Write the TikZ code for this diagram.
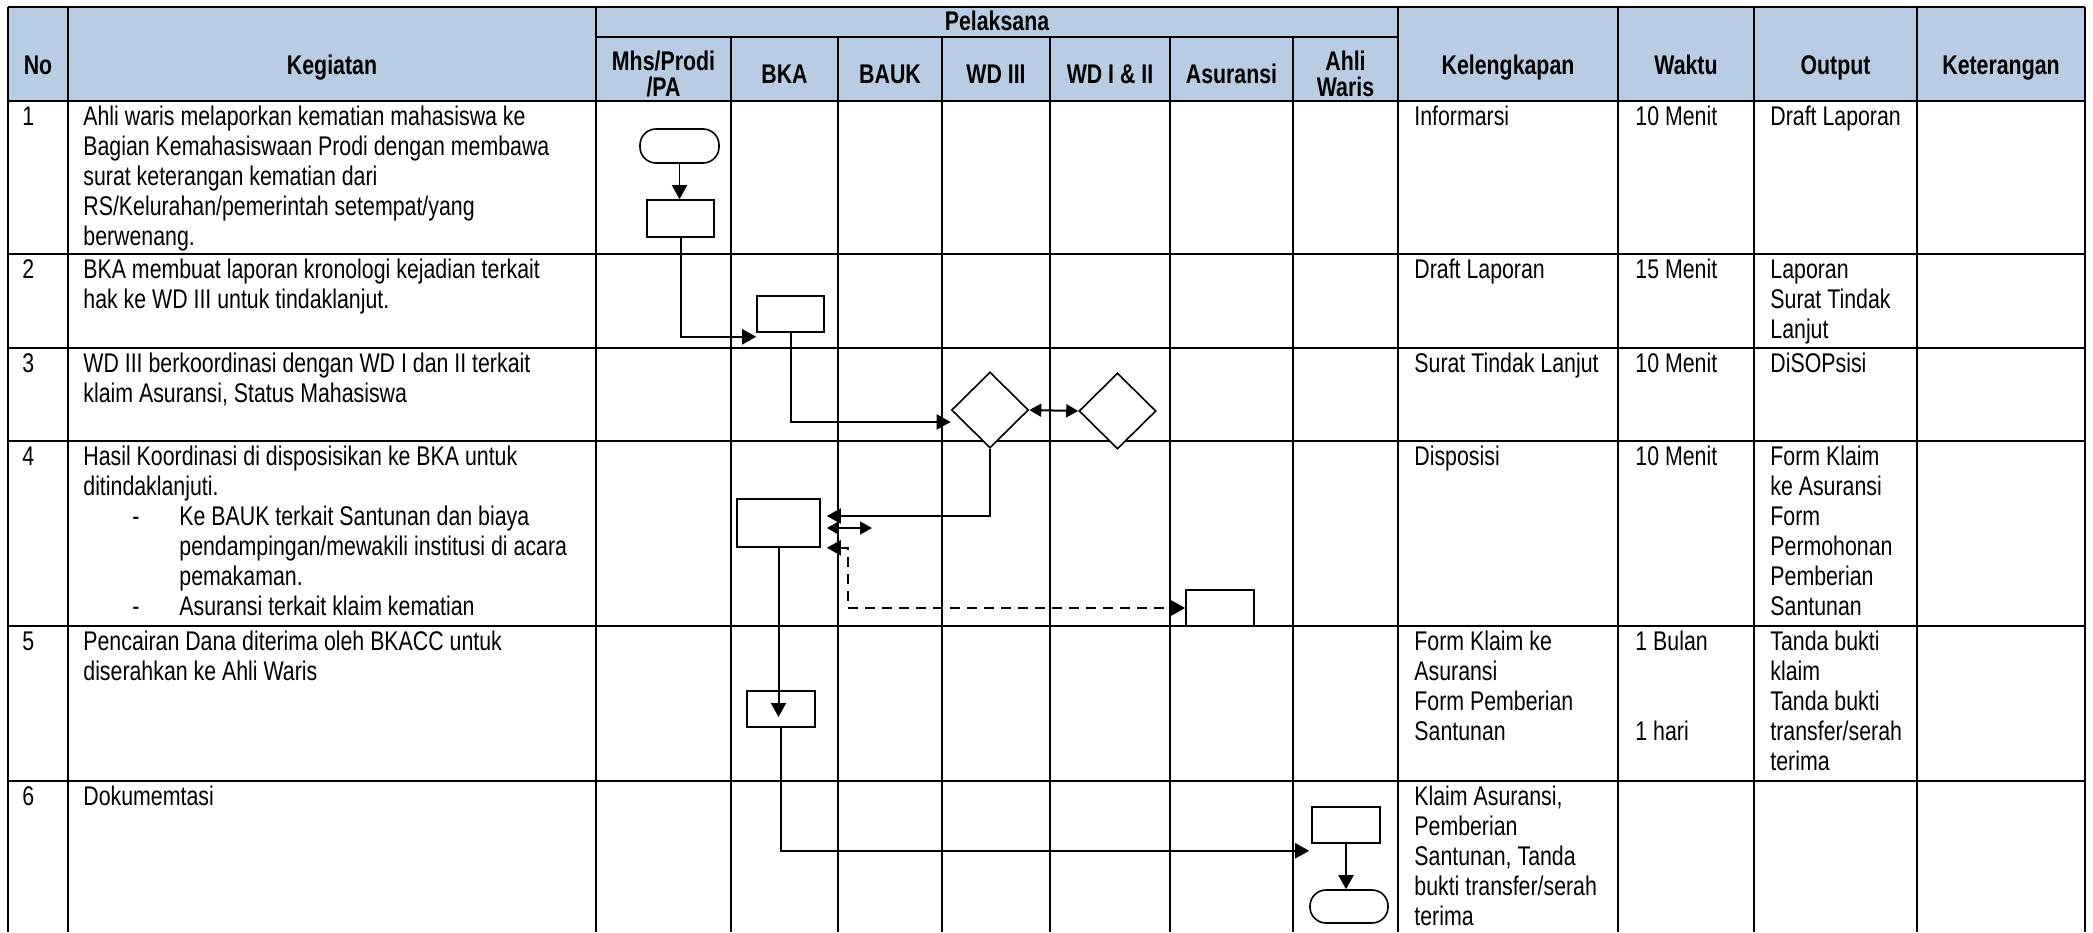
\documentclass[tikz,border=0pt]{standalone}
\usepackage{fontspec}
\setmainfont{Liberation Sans}[FakeStretch=0.79]
\usetikzlibrary{arrows.meta,calc,shapes.geometric}

\newcommand\tblbody{\fontsize{13.5}{15}\selectfont}
\newcommand\tblhead{\fontsize{13.5}{13}\selectfont\bfseries}

\definecolor{headfill}{HTML}{B8CCE4}

\begin{document}
\begin{tikzpicture}[x=0.5pt,y=-0.5pt,
  gridline/.style={line width=1pt},
  rowline/.style={line width=1.2pt},
  hd/.style={anchor=base,inner sep=0pt,font=\tblhead},
  hd2/.style={anchor=center,inner sep=0pt,align=center,font=\tblhead},
  txt/.style={anchor=north west,inner sep=0pt,align=left,font=\tblbody},
  procbox/.style={draw,line width=0.8pt,inner sep=0pt,fill=white},
  termbox/.style={draw,line width=0.8pt,inner sep=0pt,rounded corners=8pt,fill=white},
  decbox/.style={draw,diamond,line width=0.8pt,inner sep=0pt,minimum width=38.5pt,minimum height=38pt,fill=white},
  flow/.style={line width=1pt,-{Triangle[length=7pt,width=7.5pt]}},
  flowthin/.style={line width=0.8pt,-{Triangle[length=7pt,width=7.5pt]}},
  twoway/.style={line width=1pt,{Triangle[length=6pt,width=6.5pt]}-{Triangle[length=6pt,width=6.5pt]}},
  dashflow/.style={line width=1pt,dash pattern=on 5pt off 3.5pt,{Triangle[length=7pt,width=7.5pt]}-{Triangle[length=7pt,width=7.5pt]}}
]
\useasboundingbox (0,0) rectangle (2093,932);
\fill[white] (0,0) rectangle (2093,932);

% header band
\fill[headfill] (8,7) rectangle (2085,101);

% table rules
\foreach \x in {8,68,596,1398,1618,1754,1917,2085}
  \draw[gridline] (\x,7) -- (\x,932);
\foreach \x in {731,838,942,1050,1170,1293}
  \draw[gridline] (\x,37) -- (\x,932);
\draw[gridline] (596,37) -- (1398,37);
\foreach \y in {101,254,348,441,626,781}
  \draw[rowline] (8,\y) -- (2085,\y);
\draw[line width=1.3pt] (8,7) -- (2085,7);

% header texts
\node[hd] (hNo) at (38,74) {No};
\node[hd] (hKeg) at (332,74) {Kegiatan};
\node[hd] (hPel) at (997,30) {Pelaksana};
\node[hd2] (hMhs) at (663.5,73.5) {Mhs/Prodi\\/PA};
\node[hd] (hBka) at (784.5,83) {BKA};
\node[hd] (hBauk) at (890,83) {BAUK};
\node[hd] (hWd3) at (996,83) {WD III};
\node[hd] (hWd12) at (1110,83) {WD I \& II};
\node[hd] (hAsr) at (1231.5,83) {Asuransi};
\node[hd2] (hAhli) at (1345.5,73.5) {Ahli\\Waris};
\node[hd] (hKel) at (1508,74) {Kelengkapan};
\node[hd] (hWak) at (1686,74) {Waktu};
\node[hd] (hOut) at (1835.5,74) {Output};
\node[hd] (hKet) at (2001,74) {Keterangan};

% row numbers
\node[txt] (n1) at (22,104) {\strut 1};
\node[txt] (n2) at (22,257) {\strut 2};
\node[txt] (n3) at (22,351) {\strut 3};
\node[txt] (n4) at (22,444) {\strut 4};
\node[txt] (n5) at (22,629) {\strut 5};
\node[txt] (n6) at (22,784) {\strut 6};

% activities
\node[txt] (k1) at (83,104) {\strut Ahli waris melaporkan kematian mahasiswa ke\\Bagian Kemahasiswaan Prodi dengan membawa\\surat keterangan kematian dari\\RS/Kelurahan/pemerintah setempat/yang\\berwenang.};
\node[txt] (k2) at (83,257) {\strut BKA membuat laporan kronologi kejadian terkait\\hak ke WD III untuk tindaklanjut.};
\node[txt] (k3) at (83,351) {\strut WD III berkoordinasi dengan WD I dan II terkait\\klaim Asuransi, Status Mahasiswa};
\node[txt] (k4) at (83,444) {\strut Hasil Koordinasi di disposisikan ke BKA untuk\\ditindaklanjuti.\\
  \makebox[48pt][l]{\hspace*{24.5pt}-}Ke BAUK terkait Santunan dan biaya\\
  \hspace*{48pt}pendampingan/mewakili institusi di acara\\
  \hspace*{48pt}pemakaman.\\
  \makebox[48pt][l]{\hspace*{24.5pt}-}Asuransi terkait klaim kematian};
\node[txt] (k5) at (83,629) {\strut Pencairan Dana diterima oleh BKACC untuk\\diserahkan ke Ahli Waris};
\node[txt] (k6) at (83,784) {\strut Dokumemtasi};

% requirements
\node[txt] (l1) at (1414,104) {\strut Informarsi};
\node[txt] (l2) at (1414,257) {\strut Draft Laporan};
\node[txt] (l3) at (1414,351) {\strut Surat Tindak Lanjut};
\node[txt] (l4) at (1414,444) {\strut Disposisi};
\node[txt] (l5) at (1414,629) {\strut Form Klaim ke\\Asuransi\\Form Pemberian\\Santunan};
\node[txt] (l6) at (1414,784) {\strut Klaim Asuransi,\\Pemberian\\Santunan, Tanda\\bukti transfer/serah\\terima};

% durations
\node[txt] (w1) at (1635,104) {\strut 10 Menit};
\node[txt] (w2) at (1635,257) {\strut 15 Menit};
\node[txt] (w3) at (1635,351) {\strut 10 Menit};
\node[txt] (w4) at (1635,444) {\strut 10 Menit};
\node[txt] (w5) at (1635,629) {\strut 1 Bulan\\[30pt]1 hari};

% outputs
\node[txt] (o1) at (1770,104) {\strut Draft Laporan};
\node[txt] (o2) at (1770,257) {\strut Laporan\\Surat Tindak\\Lanjut};
\node[txt] (o3) at (1770,351) {\strut DiSOPsisi};
\node[txt] (o4) at (1770,444) {\strut Form Klaim\\ke Asuransi\\Form\\Permohonan\\Pemberian\\Santunan};
\node[txt] (o5) at (1770,629) {\strut Tanda bukti\\klaim\\Tanda bukti\\transfer/serah\\terima};

% flow symbols
\node[termbox,minimum width=39.5pt,minimum height=17pt] (t1) at (679.5,146) {};
\node[procbox,minimum width=33.5pt,minimum height=18.5pt] (b1) at (680.5,218.5) {};
\node[procbox,minimum width=33.5pt,minimum height=18pt] (b2) at (790.5,314) {};
\node[decbox] (d1) at (990,410) {};
\node[decbox] (d2) at (1117.5,411) {};
\node[procbox,minimum width=41.5pt,minimum height=24pt] (b3) at (778.5,523) {};
\node[procbox,minimum width=34pt,minimum height=18pt] (a1) at (1220,608) {};
\node[procbox,minimum width=34pt,minimum height=18pt] (b4) at (781,709) {};
\node[procbox,minimum width=34pt,minimum height=18pt] (b5) at (1346,825) {};
\node[termbox,minimum width=39pt,minimum height=16.5pt] (t2) at (1349,906.5) {};

% connectors
\draw[flowthin] (t1.south) -- (t1.south |- b1.north);
\draw[flow] (b1.south) |- ($(b2.south west)+(0,4)$);
\draw[flow] (b2.south) |- ($(d1.west)+(0,12)$);
\draw[twoway] (d1.east) -- (d2.west);
\draw[flow] (d1.south) |- ($(b3.east)+(6,-7)$);
\coordinate (bauklink) at (872,528);
\draw[twoway] ($(b3.east)+(6,5)$) -- (bauklink);
\draw[dashflow] ($(b3.south east)+(6,0)$) -- ++(21,0) |- (a1.west);
\draw[flow] (b3.south) -- ($(b3.south |- b4.center)+(0,8)$);
\draw[flow] (b4.south) |- ($(b5.south west)+(-2,7)$);
\draw[flow] (b5.south) -- (b5.south |- t2.north);
\end{tikzpicture}
\end{document}
